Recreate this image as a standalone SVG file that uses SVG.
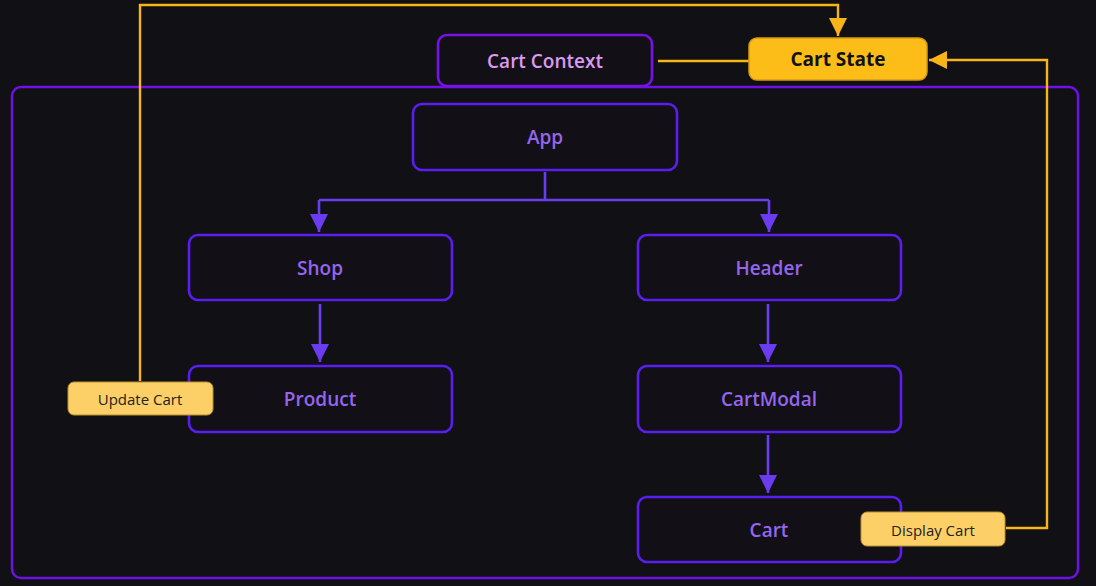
<svg xmlns="http://www.w3.org/2000/svg" width="1096" height="586" viewBox="0 0 1096 586">
<defs>
<style>
.node rect{fill:#121016;stroke:#5a1ef0;stroke-width:2.6}
.node text{font-family:"Open Sans","Noto Sans",sans-serif;font-weight:600;font-size:19px;fill:#9466ee;text-anchor:middle;dominant-baseline:central}
.ctx rect{stroke:#7612e6}
.ctx text{fill:#dc9af2}
.state rect{fill:#fdbd19;stroke:#d99a10;stroke-width:1.5}
.state text{fill:#111;font-weight:700;font-size:19px}
.tag rect{fill:#fcd066;stroke:#b89030;stroke-width:1}
.tag text{fill:#222;font-weight:400;font-size:15px}
.pl{fill:none;stroke:#6a3cf0;stroke-width:2.6}
.yl{fill:none;stroke:#f7b518;stroke-width:2.4}
</style>
<marker id="ap" viewBox="0 0 10 10" refX="10" refY="5" markerWidth="18" markerHeight="20" markerUnits="userSpaceOnUse" orient="auto">
<path d="M0,0 L10,5 L0,10 z" fill="#6a3cf0"/>
</marker>
<marker id="ay" viewBox="0 0 10 10" refX="10" refY="5" markerWidth="18" markerHeight="20" markerUnits="userSpaceOnUse" orient="auto">
<path d="M0,0 L10,5 L0,10 z" fill="#f7b518"/>
</marker>
</defs>
<rect x="0" y="0" width="1096" height="586" fill="#111015"/>
<rect x="12" y="87" width="1066" height="491" rx="9" fill="none" stroke="#7010e6" stroke-width="2.4"/>
<g id="connectors">
<path class="pl" d="M545,172 V200 M319,200 H769"/>
<path class="pl" d="M319,200 V232" marker-end="url(#ap)"/>
<path class="pl" d="M769,200 V232" marker-end="url(#ap)"/>
<path class="pl" d="M320,304 V362" marker-end="url(#ap)"/>
<path class="pl" d="M768,304 V362" marker-end="url(#ap)"/>
<path class="pl" d="M768,435 V493" marker-end="url(#ap)"/>
<path class="yl" d="M140,381 V5 H838 V36" marker-end="url(#ay)"/>
<path class="yl" d="M749,61 H658"/>
<path class="yl" d="M1006,528 H1047 V60 H929" marker-end="url(#ay)"/>
</g>
<g id="cart-context" class="node ctx"><rect x="438" y="35" width="214" height="51" rx="9"/><text x="545" y="61">Cart Context</text></g>
<g id="cart-state" class="node state"><rect x="749" y="38" width="178" height="42" rx="8"/><text x="838" y="59">Cart State</text></g>
<g id="app" class="node"><rect x="413" y="104" width="264" height="66" rx="9"/><text x="545" y="137">App</text></g>
<g id="shop" class="node"><rect x="189" y="235" width="263" height="65" rx="9"/><text x="320" y="268">Shop</text></g>
<g id="header" class="node"><rect x="638" y="235" width="263" height="65" rx="9"/><text x="769" y="268">Header</text></g>
<g id="product" class="node"><rect x="189" y="366" width="263" height="66" rx="9"/><text x="320" y="399">Product</text></g>
<g id="cartmodal" class="node"><rect x="638" y="366" width="263" height="66" rx="9"/><text x="769" y="399">CartModal</text></g>
<g id="cart" class="node"><rect x="638" y="497" width="263" height="65" rx="9"/><text x="769" y="530">Cart</text></g>
<g id="update-cart" class="node tag"><rect x="68" y="382" width="145" height="33" rx="6"/><text x="140" y="399">Update Cart</text></g>
<g id="display-cart" class="node tag"><rect x="861" y="512" width="144" height="34" rx="6"/><text x="933" y="530">Display Cart</text></g>
</svg>
